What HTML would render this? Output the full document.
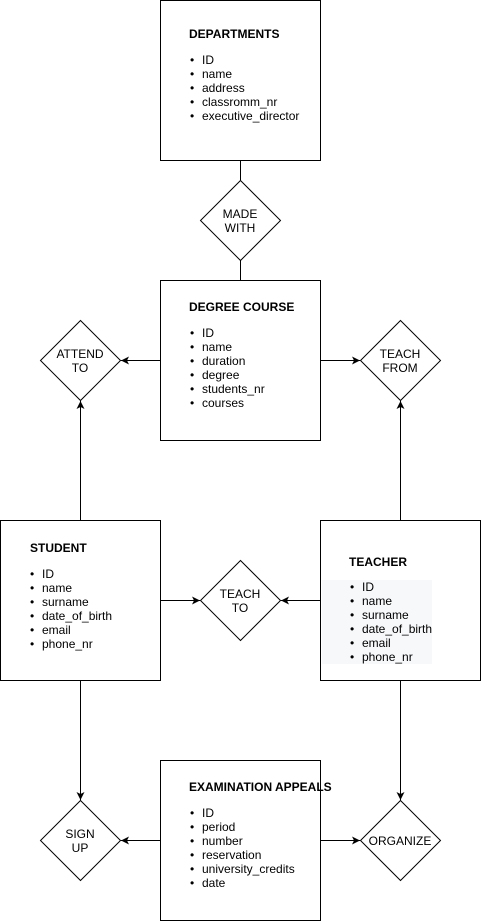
<!DOCTYPE html>
<html><head><meta charset="utf-8"><style>
body{margin:0;background:#fff}
svg{display:block;font-family:"Liberation Sans",Arial,sans-serif;font-size:12px}
</style></head><body>
<svg width="481" height="922" viewBox="0 0 481 922" xmlns="http://www.w3.org/2000/svg">
<defs>
<marker id="a" markerWidth="10" markerHeight="10" refX="8" refY="4" orient="auto" markerUnits="userSpaceOnUse">
<path d="M0,0 L8,4 L0,8 L2,4 Z" fill="#000"/>
</marker>
</defs>
<g fill="none" stroke="#000" stroke-width="1">
<rect x="160.5" y="0.5" width="160" height="160"/>
<rect x="160.5" y="280.5" width="160" height="160"/>
<rect x="0.5" y="520.5" width="160" height="160"/>
<rect x="320.5" y="520.5" width="160" height="160"/>
<rect x="160.5" y="760.5" width="160" height="160"/>
<path d="M240.5,180.5 L280.5,220.5 240.5,260.5 200.5,220.5Z"/>
<path d="M80.5,320.5 L120.5,360.5 80.5,400.5 40.5,360.5Z"/>
<path d="M400.5,320.5 L440.5,360.5 400.5,400.5 360.5,360.5Z"/>
<path d="M240.5,560.5 L280.5,600.5 240.5,640.5 200.5,600.5Z"/>
<path d="M80.5,800.5 L120.5,840.5 80.5,880.5 40.5,840.5Z"/>
<path d="M400.5,800.5 L440.5,840.5 400.5,880.5 360.5,840.5Z"/>
<line x1="240.5" y1="160" x2="240.5" y2="180"/>
<line x1="240.5" y1="260" x2="240.5" y2="280"/>
<line x1="160" y1="360.5" x2="121" y2="360.5" marker-end="url(#a)"/>
<line x1="320" y1="360.5" x2="360" y2="360.5" marker-end="url(#a)"/>
<line x1="80.5" y1="520" x2="80.5" y2="401" marker-end="url(#a)"/>
<line x1="400.5" y1="520" x2="400.5" y2="401" marker-end="url(#a)"/>
<line x1="160" y1="600.5" x2="200" y2="600.5" marker-end="url(#a)"/>
<line x1="320" y1="600.5" x2="281" y2="600.5" marker-end="url(#a)"/>
<line x1="80.5" y1="680" x2="80.5" y2="800" marker-end="url(#a)"/>
<line x1="400.5" y1="680" x2="400.5" y2="800" marker-end="url(#a)"/>
<line x1="160" y1="840.5" x2="121" y2="840.5" marker-end="url(#a)"/>
<line x1="320" y1="840.5" x2="360" y2="840.5" marker-end="url(#a)"/>
</g>
<rect x="322" y="580" width="110" height="84" fill="#f7f8fa"/>
<g text-anchor="middle">
<text x="240" y="218">MADE</text><text x="240" y="232">WITH</text>
<text x="80" y="358">ATTEND</text><text x="80" y="372">TO</text>
<text x="400" y="358">TEACH</text><text x="400" y="372">FROM</text>
<text x="240" y="598">TEACH</text><text x="240" y="612">TO</text>
<text x="80" y="838">SIGN</text><text x="80" y="852">UP</text>
<text x="400" y="845">ORGANIZE</text>
</g>
<g font-weight="bold">
<text x="189" y="38">DEPARTMENTS</text>
<text x="189" y="311">DEGREE COURSE</text>
<text x="30" y="552">STUDENT</text>
<text x="349" y="566">TEACHER</text>
<text x="189" y="791">EXAMINATION APPEALS</text>
</g>
<g>
<text x="190" y="64">•</text><text x="202" y="64">ID</text>
<text x="190" y="78">•</text><text x="202" y="78">name</text>
<text x="190" y="92">•</text><text x="202" y="92">address</text>
<text x="190" y="106">•</text><text x="202" y="106">classromm_nr</text>
<text x="190" y="120">•</text><text x="202" y="120">executive_director</text>

<text x="190" y="337">•</text><text x="202" y="337">ID</text>
<text x="190" y="351">•</text><text x="202" y="351">name</text>
<text x="190" y="365">•</text><text x="202" y="365">duration</text>
<text x="190" y="379">•</text><text x="202" y="379">degree</text>
<text x="190" y="393">•</text><text x="202" y="393">students_nr</text>
<text x="190" y="407">•</text><text x="202" y="407">courses</text>

<text x="30" y="578">•</text><text x="42" y="578">ID</text>
<text x="30" y="592">•</text><text x="42" y="592">name</text>
<text x="30" y="606">•</text><text x="42" y="606">surname</text>
<text x="30" y="620">•</text><text x="42" y="620">date_of_birth</text>
<text x="30" y="634">•</text><text x="42" y="634">email</text>
<text x="30" y="648">•</text><text x="42" y="648">phone_nr</text>

<text x="350" y="591">•</text><text x="362" y="591">ID</text>
<text x="350" y="605">•</text><text x="362" y="605">name</text>
<text x="350" y="619">•</text><text x="362" y="619">surname</text>
<text x="350" y="633">•</text><text x="362" y="633">date_of_birth</text>
<text x="350" y="647">•</text><text x="362" y="647">email</text>
<text x="350" y="661">•</text><text x="362" y="661">phone_nr</text>

<text x="190" y="817">•</text><text x="202" y="817">ID</text>
<text x="190" y="831">•</text><text x="202" y="831">period</text>
<text x="190" y="845">•</text><text x="202" y="845">number</text>
<text x="190" y="859">•</text><text x="202" y="859">reservation</text>
<text x="190" y="873">•</text><text x="202" y="873">university_credits</text>
<text x="190" y="887">•</text><text x="202" y="887">date</text>
</g>
</svg>
</body></html>
